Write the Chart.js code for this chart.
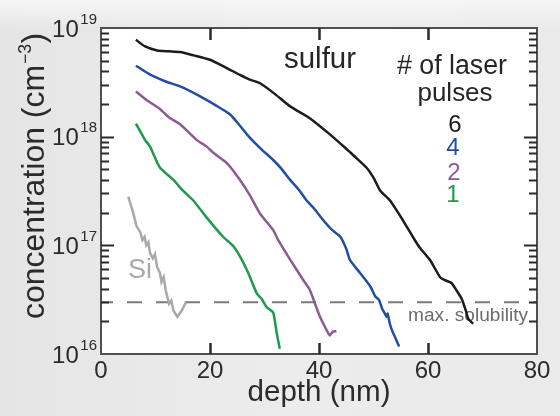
<!DOCTYPE html>
<html><head><meta charset="utf-8">
<script src="https://cdn.jsdelivr.net/npm/chart.js@4/dist/chart.umd.min.js"></script>
<style>html,body{margin:0;padding:0;background:#ebebeb;}canvas{display:block}</style>
</head><body>
<canvas id="c" width="560" height="416"></canvas>
<script>
const FONT = '"Liberation Sans", Arial, Helvetica, sans-serif';

// ---- data (depth in nm, concentration in cm^-3) ----
const depth6 = [6.4,8.0,10.3,12.5,14.5,17,20,23,25.5,27.3,29.2,32,34.7,38.3,42,44.8,46.5,48.7,50,51.2,53,55.4,57.2,58.5,60.4,62.2,63.0,64.3,65.3,66.2,67,67.4,68.3];
const conc6  = [7.8e18,6.8e18,6.2e18,6.1e18,6.0e18,5.6e18,5.1e18,4.3e18,3.7e18,3.35e18,3.1e18,2.45e18,1.9e18,1.48e18,1.05e18,7.9e17,6.6e17,5.2e17,4.2e17,3.2e17,2.6e17,1.7e17,1.2e17,9.5e16,7.3e16,5.1e16,4.8e16,4.5e16,3.8e16,3.2e16,2.45e16,2.1e16,1.9e16];

const depth4 = [6.4,8.0,9.6,12,14.5,18.2,21,23.7,25.5,27.3,29.5,31.6,33.2,34.7,36.2,37.7,39.2,40.8,42.3,43.9,45.0,45.7,47.5,49.4,50.3,51.0,51.6,52.0,52.4,52.6,53.0,53.5,53.9,54.7];
const conc4  = [4.5e18,4.0e18,3.6e18,3.2e18,2.9e18,2.35e18,1.95e18,1.6e18,1.26e18,9.8e17,7.6e17,6.1e17,5.0e17,4.0e17,3.3e17,2.6e17,2.15e17,1.7e17,1.4e17,1.2e17,9.3e16,7.3e16,5.6e16,4.2e16,3.4e16,3.15e16,2.6e16,2.4e16,2.2e16,2.35e16,1.9e16,1.6e16,1.45e16,1.17e16];

const depth2 = [6.4,8.5,10.8,12.5,14.5,17.6,19.4,20.6,23.1,25.5,27.3,29.2,31.6,32.5,34.7,37.1,38.3,39.5,40.1,40.8,41.4,42,42.5,43.2];
const conc2  = [2.6e18,2.15e18,1.8e18,1.5e18,1.3e18,9.3e17,8.1e17,7.1e17,5.7e17,4.0e17,2.9e17,1.95e17,1.38e17,1.12e17,7.4e16,4.8e16,3.9e16,2.7e16,2.25e16,1.9e16,1.66e16,1.48e16,1.6e16,1.62e16];

const depth1 = [6.4,7.5,8.1,9.0,10.8,13.3,15.0,16.9,19.4,22.4,24.3,25.5,27.0,28.6,29.5,30.4,31.6,32.2,32.8];
const conc1  = [1.32e18,1.05e18,9.3e17,8.1e17,5.2e17,4.0e17,3.2e17,2.6e17,1.8e17,1.2e17,9.8e16,7.9e16,5.6e16,3.6e16,3.2e16,2.7e16,2.4e16,1.6e16,1.12e16];

const depthSi = [5.0,5.9,6.5,7.2,7.6,8.0,8.3,8.7,9.0,9.5,9.9,10.3,10.8,11.1,11.5,11.9,12.2,12.5,12.9,13.3,14.0,14.8,15.6];
const concSi  = [2.8e17,2.0e17,1.51e17,1.32e17,1.12e17,1.2e17,1.0e17,1.07e17,8.5e16,7.6e16,8.3e16,6.3e16,5.6e16,4.6e16,5.1e16,3.8e16,3.3e16,2.9e16,3.1e16,2.5e16,2.2e16,2.5e16,3.0e16];

const solubilityX = [0, 80];
const solubilityY = [3.0e16, 3.0e16];

const xTickValues = [0, 20, 40, 60, 80];
const yTickValues = [1e16, 1e17, 1e18, 1e19];
const yTickExps   = ['16', '17', '18', '19'];
const legendLabels = ['6', '4', '2', '1'];

const COL6 = '#1c1c1c', COL4 = '#1f4f9e', COL2 = '#8d5a95', COL1 = '#1f9a4c', COLSI = '#a9a9a9';
const legendColors = [COL6, COL4, COL2, COL1];

const pts = (xs, ys) => xs.map((x, i) => ({x, y: ys[i]}));

const mctx = document.createElement('canvas').getContext('2d');
function fitSize(text, w, ctx) {
  const c = ctx || mctx;
  c.font = '30px ' + FONT;
  return 30 * w / c.measureText(text).width;
}
const xTitleSize = fitSize('depth (nm)', 143);

const line = (data, color, w, tension) => ({data, borderColor: color, borderWidth: w || 2.5, pointRadius: 0,
  tension: tension || 0, fill: false});

const decor = {
  id: 'decor',
  beforeDraw(chart) {
    const {ctx, chartArea: a} = chart;
    ctx.save();
    const g = ctx.createLinearGradient(0, 0, chart.width, 0);
    g.addColorStop(0, '#e5e5e5'); g.addColorStop(0.5, '#ececec'); g.addColorStop(1, '#eaeaea');
    ctx.fillStyle = g; ctx.fillRect(0, 0, chart.width, chart.height);
    const g2 = ctx.createLinearGradient(0, 0, 0, 30);
    g2.addColorStop(0, 'rgba(246,246,246,1)'); g2.addColorStop(1, 'rgba(246,246,246,0)');
    ctx.fillStyle = g2; ctx.fillRect(0, 0, chart.width, 30);
    ctx.fillStyle = '#ffffff';
    ctx.fillRect(a.left, a.top, a.right - a.left, a.bottom - a.top);
    ctx.restore();
  },
  beforeDatasetsDraw(chart) {
    const {ctx} = chart;
    ctx.save();
    ctx.textBaseline = 'alphabetic';
    ctx.textAlign = 'center';
    ctx.fillStyle = '#262626';
    ctx.font = fitSize('sulfur', 72, ctx) + 'px ' + FONT;
    ctx.fillText('sulfur', 320, 68);
    ctx.font = fitSize('# of laser', 110, ctx) + 'px ' + FONT;
    ctx.fillText('# of laser', 452, 74);
    ctx.font = fitSize('pulses', 75, ctx) + 'px ' + FONT;
    ctx.fillText('pulses', 455, 101);
    const ly = [131.5, 155, 179.5, 202];
    const lx = [455, 453, 454, 453];
    ctx.font = '24px ' + FONT;
    legendLabels.forEach((t, i) => { ctx.fillStyle = legendColors[i]; ctx.fillText(t, lx[i], ly[i]); });
    ctx.fillStyle = COLSI;
    ctx.font = '27px ' + FONT;
    ctx.fillText('Si', 140, 278);
    ctx.fillStyle = '#6c6c6c';
    ctx.textAlign = 'right';
    ctx.font = fitSize('max. solubility', 120, ctx) + 'px ' + FONT;
    ctx.fillText('max. solubility', 528, 321);
    ctx.restore();
  },
  afterDatasetsDraw(chart) {
    const {ctx, chartArea: a, scales: {x, y}} = chart;
    ctx.save();
    ctx.strokeStyle = '#505050'; ctx.lineWidth = 2;
    ctx.strokeRect(a.left, a.top, a.right - a.left, a.bottom - a.top);
    ctx.strokeStyle = '#2a2a2a';
    ctx.lineWidth = 2.5;
    [20, 40, 60].forEach(v => {
      const px = Math.round(x.getPixelForValue(v)) + 0.5;
      ctx.beginPath();
      ctx.moveTo(px, a.bottom); ctx.lineTo(px, a.bottom - 11);
      ctx.moveTo(px, a.top); ctx.lineTo(px, a.top + 12);
      ctx.stroke();
    });
    ctx.lineWidth = 2;
    for (let d = 16; d <= 18; d++) {
      for (let m = 1; m <= 9; m++) {
        if (d === 16 && m === 1) continue;
        const py = Math.round(y.getPixelForValue(m * Math.pow(10, d))) + 0.5;
        const len = m === 1 ? 13 : 8;
        ctx.beginPath();
        ctx.moveTo(a.left, py); ctx.lineTo(a.left + len, py);
        ctx.moveTo(a.right, py); ctx.lineTo(a.right - len, py);
        ctx.stroke();
      }
    }
    ctx.fillStyle = '#2b2b2b';
    ctx.textAlign = 'right';
    ctx.textBaseline = 'alphabetic';
    yTickValues.forEach((v, i) => {
      const py = y.getPixelForValue(v);
      ctx.font = '15px ' + FONT;
      const sw = ctx.measureText(yTickExps[i]).width;
      ctx.fillText(yTickExps[i], 97, py - 4.5);
      ctx.font = '24px ' + FONT;
      ctx.fillText('10', 97 - sw - 1.5, py + 8.5);
    });
    const ts = fitSize('concentration', 192, ctx);
    ctx.translate(44, 319);
    ctx.rotate(-Math.PI / 2);
    ctx.textAlign = 'left';
    ctx.font = ts + 'px ' + FONT;
    const main = 'concentration (cm';
    ctx.fillText(main, 0, 0);
    let w = ctx.measureText(main).width;
    ctx.font = (ts * 0.55) + 'px ' + FONT;
    const sup = '\u22123';
    ctx.fillText(sup, w + 1, -ts * 0.42);
    w += ctx.measureText(sup).width + 1.5;
    ctx.font = ts + 'px ' + FONT;
    ctx.fillText(')', w, 0);
    ctx.restore();
  }
};

new Chart(document.getElementById('c'), {
  type: 'line',
  data: {
    datasets: [
      line(pts(depth6, conc6), COL6, 2.5, 0.2),
      line(pts(depth4, conc4), COL4, 2.5, 0.2),
      line(pts(depth2, conc2), COL2, 2.5, 0.2),
      line(pts(depth1, conc1), COL1, 2.5, 0.2),
      line(pts(depthSi, concSi), COLSI, 2.5, 0),
      Object.assign(line(pts(solubilityX, solubilityY), '#7a7a7a', 2, 0), {borderDash: [15, 14], borderDashOffset: 3})
    ]
  },
  options: {
    responsive: false,
    animation: false,
    devicePixelRatio: 1,
    layout: {padding: {top: 28, right: 23, left: 0, bottom: 0}},
    plugins: {legend: {display: false}, tooltip: {enabled: false}},
    scales: {
      x: {
        type: 'linear', min: 0, max: 80,
        grid: {display: false, drawTicks: false},
        border: {display: false},
        afterBuildTicks: s => { s.ticks = xTickValues.map(v => ({value: v})); },
        afterFit: s => { s.height = 62; },
        ticks: {font: {family: FONT, size: 24}, color: '#2b2b2b', padding: 3, maxRotation: 0, autoSkip: false},
        title: {display: true, text: 'depth (nm)', font: {family: FONT, size: xTitleSize}, color: '#2b2b2b', padding: {top: 0, bottom: 5}}
      },
      y: {
        type: 'logarithmic', min: 1e16, max: 1e19,
        grid: {display: false, drawTicks: false},
        border: {display: false},
        ticks: {display: false},
        afterFit: s => { s.width = 101; }
      }
    }
  },
  plugins: [decor]
});
</script>
</body></html>
